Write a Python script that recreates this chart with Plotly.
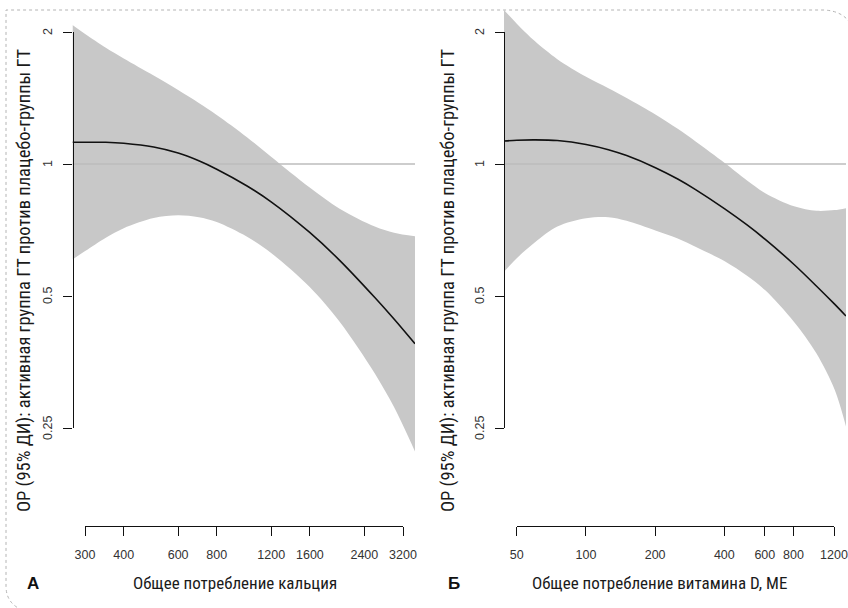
import math
import plotly.graph_objects as go

# ---------------- data ----------------
calcium_x = [273, 300, 350, 400, 500, 600, 700, 800, 1000, 1200, 1600, 2000, 2600, 3000, 3508]
calcium_or = [1.121, 1.121, 1.121, 1.115, 1.093, 1.059, 1.017, 0.973, 0.892, 0.820, 0.698, 0.603, 0.496, 0.443, 0.389]
calcium_hi = [2.075, 1.979, 1.842, 1.741, 1.592, 1.475, 1.378, 1.294, 1.153, 1.039, 0.884, 0.791, 0.720, 0.697, 0.684]
calcium_lo = [0.606, 0.633, 0.679, 0.714, 0.753, 0.764, 0.756, 0.737, 0.683, 0.627, 0.524, 0.437, 0.333, 0.279, 0.221]

vitd_x = [44, 50, 60, 75, 100, 125, 150, 200, 250, 300, 400, 500, 600, 800, 1000, 1200, 1345]
vitd_or = [1.128, 1.133, 1.135, 1.131, 1.108, 1.078, 1.045, 0.981, 0.924, 0.873, 0.790, 0.726, 0.673, 0.590, 0.527, 0.479, 0.450]
vitd_hi = [2.245, 2.089, 1.904, 1.734, 1.581, 1.489, 1.414, 1.297, 1.203, 1.124, 1.005, 0.917, 0.858, 0.801, 0.782, 0.785, 0.793]
vitd_lo = [0.568, 0.61, 0.663, 0.720, 0.752, 0.756, 0.742, 0.705, 0.676, 0.647, 0.600, 0.556, 0.515, 0.436, 0.370, 0.306, 0.252]

calcium_ticks = [300, 400, 600, 800, 1200, 1600, 2400, 3200]
vitd_ticks = [50, 100, 200, 400, 600, 800, 1200]
or_ticks = [0.25, 0.5, 1, 2]
or_ticktext = ["0.25", "0.5", "1", "2"]

y_title = "ОР (95% ДИ): активная группа ГТ против плацебо-группы ГТ"
x_title_a = "Общее потребление кальция"
x_title_b = "Общее потребление витамина D, МЕ"
panel_a = "А"
panel_b = "Б"
reference_or = 1

# ---------------- layout helpers ----------------
W, H = 848, 608
def px(x):
    return x / W
def py(y):
    return 1 - y / H

BAND = "#c8c8c8"
AXC = "#111111"
TICKFONT = dict(family="Liberation Sans, Arial, sans-serif", size=12.5, color="#333333")
TITLEFONT_Y = dict(family="Liberation Sans Narrow, Roboto Condensed, DejaVu Sans Condensed, Roboto", size=18.5, color="#1a1a1a")
TITLEFONT_X = dict(family="Liberation Sans Narrow, Roboto Condensed, DejaVu Sans Condensed, Roboto", size=17, color="#1a1a1a")

fig = go.Figure()

def add_panel(xs, est, lo, hi, xa, ya):
    fig.add_trace(go.Scatter(x=xs, y=lo, xaxis=xa, yaxis=ya, mode="lines",
                             line=dict(width=0, color=BAND, shape="spline", smoothing=0.9),
                             hoverinfo="skip", showlegend=False))
    fig.add_trace(go.Scatter(x=xs, y=hi, xaxis=xa, yaxis=ya, mode="lines",
                             line=dict(width=0, color=BAND, shape="spline", smoothing=0.9),
                             fill="tonexty", fillcolor=BAND,
                             hoverinfo="skip", showlegend=False))
    fig.add_trace(go.Scatter(x=[xs[0], xs[-1]], y=[reference_or, reference_or], xaxis=xa, yaxis=ya,
                             mode="lines", line=dict(width=1.6, color="#bdbdbd"),
                             hoverinfo="skip", showlegend=False))
    fig.add_trace(go.Scatter(x=xs, y=est, xaxis=xa, yaxis=ya, mode="lines",
                             line=dict(width=1.6, color="#111111", shape="spline", smoothing=0.9),
                             hoverinfo="skip", showlegend=False))

def add_dummy(xt, xa, ya):
    fig.add_trace(go.Scatter(x=xt, y=[reference_or] * len(xt), xaxis=xa, yaxis=ya, mode="markers",
                             marker=dict(opacity=0, size=1), hoverinfo="skip", showlegend=False))

add_panel(calcium_x, calcium_or, calcium_lo, calcium_hi, "x", "y")
add_panel(vitd_x, vitd_or, vitd_lo, vitd_hi, "x2", "y2")
add_dummy(calcium_ticks, "x3", "y3")
add_dummy(vitd_ticks, "x4", "y4")

# y pixel mapping: value 1 at y=164, 132 px per doubling
PX_PER_DEC = 132 / math.log10(2)
def yrange(top_px, bot_px):
    return [(164 - bot_px) / PX_PER_DEC, (164 - top_px) / PX_PER_DEC]

hidden = dict(visible=False, type="log", showgrid=False, zeroline=False, automargin=False)

def deco_x(domain, ticks, pos):
    return dict(type="log", domain=domain, range=[math.log10(ticks[0]), math.log10(ticks[-1])],
                anchor="free", position=pos, showline=True, linecolor=AXC, linewidth=1.3,
                ticks="outside", ticklen=9, tickwidth=1.3, tickcolor=AXC,
                tickvals=ticks, ticktext=[str(t) for t in ticks], tickfont=TICKFONT,
                ticklabelstandoff=8, automargin=False,
                showgrid=False, zeroline=False, fixedrange=True)

def deco_y(domain, pos):
    return dict(type="log", domain=domain, range=[math.log10(or_ticks[0]), math.log10(or_ticks[-1])],
                anchor="free", position=pos, showline=True, linecolor=AXC, linewidth=1.3,
                ticks="outside", ticklen=9, tickwidth=1.3, tickcolor=AXC,
                tickvals=or_ticks, showticklabels=False, automargin=False,
                showgrid=False, zeroline=False, fixedrange=True)

ydom = [py(460), py(8)]
yr = yrange(8, 460)

fig.update_layout(
    width=W, height=H, autosize=False,
    margin=dict(l=0, r=0, t=0, b=0, pad=0, autoexpand=False),
    paper_bgcolor="white", plot_bgcolor="rgba(0,0,0,0)",
    showlegend=False,
    xaxis=dict(hidden, domain=[px(72.5), px(415)], range=[math.log10(calcium_x[0]), math.log10(calcium_x[-1])], anchor="y"),
    yaxis=dict(hidden, domain=ydom, range=yr, anchor="x"),
    xaxis2=dict(hidden, domain=[px(504), px(846)], range=[math.log10(vitd_x[0]), math.log10(vitd_x[-1])], anchor="y2"),
    yaxis2=dict(hidden, domain=ydom, range=yr, anchor="x2"),
    xaxis3=deco_x([px(85), px(403)], calcium_ticks, py(525.5)),
    yaxis3=deco_y([py(428), py(32)], px(72.5)),
    xaxis4=deco_x([px(516.7), px(834)], vitd_ticks, py(525.5)),
    yaxis4=deco_y([py(428), py(32)], px(504)),
)

annos = [
    dict(text=y_title, x=px(24), y=py(280), textangle=-90, font=TITLEFONT_Y),
    dict(text=y_title, x=px(448), y=py(280), textangle=-90, font=TITLEFONT_Y),
    dict(text=x_title_a, x=px(235), y=py(583), font=TITLEFONT_X),
    dict(text=x_title_b, x=px(659), y=py(583), font=TITLEFONT_X),
    dict(text="<b>" + panel_a + "</b>", x=px(33), y=py(583),
         font=dict(family="Liberation Sans, Arial, sans-serif", size=17, color="#111111")),
    dict(text="<b>" + panel_b + "</b>", x=px(454), y=py(583),
         font=dict(family="Liberation Sans, Arial, sans-serif", size=17, color="#111111")),
]
for a in annos:
    fig.add_annotation(xref="paper", yref="paper", showarrow=False, xanchor="center", yanchor="middle", **a)

# rotated y tick labels (R style, parallel to the axis), placed on the tick axes' own scale
for yref, xpos in (("y3", 48), ("y4", 480)):
    for v, t in zip(or_ticks, or_ticktext):
        fig.add_annotation(xref="paper", yref=yref, x=px(xpos), y=math.log10(v), text=t,
                           textangle=-90, showarrow=False, xanchor="center", yanchor="middle",
                           font=TICKFONT)

# dotted frame around the figure (rounded corners)
def P(x, y):
    return f"{px(x):.5f},{py(y):.5f}"
frame = ("M " + P(28, 612) + " Q " + P(6, 606) + " " + P(6, 586) + " L " + P(6, 10) +
         " L " + P(824, 10) + " Q " + P(844, 11) + " " + P(852, 26))
fig.add_shape(type="path", xref="paper", yref="paper", path=frame,
              line=dict(color="#b4b4b4", width=1, dash="dot"))

fig.write_html("out.html")
